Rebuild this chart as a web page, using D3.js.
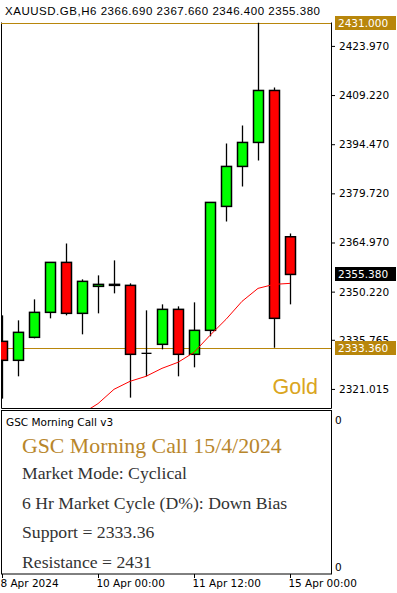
<!DOCTYPE html>
<html>
<head>
<meta charset="utf-8">
<script src="https://cdn.jsdelivr.net/npm/d3@7"></script>
<style>
  body { margin: 0; background: #fff; }
  text { font-family: "DejaVu Sans", sans-serif; }
</style>
</head>
<body>
<div id="chart"></div>
<script>
// H6 bars, XAUUSD
var categories = ["8 Apr 12:00", "8 Apr 18:00", "9 Apr 00:00", "9 Apr 06:00", "9 Apr 12:00", "9 Apr 18:00",
  "10 Apr 00:00", "10 Apr 06:00", "10 Apr 12:00", "10 Apr 18:00", "11 Apr 00:00", "11 Apr 06:00",
  "11 Apr 12:00", "11 Apr 18:00", "12 Apr 00:00", "12 Apr 06:00", "12 Apr 12:00", "12 Apr 18:00", "15 Apr 00:00"];
var opens  = [2335.3, 2329.6, 2336.5, 2344.0, 2359.0, 2343.7, 2351.8, 2352.1, 2352.1, 2331.7, 2334.4, 2344.9, 2331.4, 2338.6, 2375.8, 2387.8, 2395.0, 2410.6, 2366.69];
var highs  = [2343.1, 2341.6, 2347.9, 2359.0, 2364.7, 2353.9, 2355.1, 2359.6, 2352.7, 2344.6, 2346.4, 2345.8, 2347.0, 2377.0, 2394.7, 2400.1, 2431.0, 2411.5, 2367.66];
var lows   = [2318.1, 2324.8, 2336.2, 2342.2, 2343.1, 2337.4, 2343.7, 2349.7, 2318.4, 2324.8, 2332.9, 2324.8, 2327.5, 2336.8, 2371.3, 2381.8, 2389.6, 2333.4, 2346.40];
var closes = [2329.6, 2338.0, 2344.0, 2359.0, 2343.7, 2353.3, 2352.4, 2352.4, 2331.4, 2331.7, 2344.9, 2331.4, 2338.6, 2377.0, 2387.8, 2395.0, 2410.6, 2342.2, 2355.38];
var maValues = [null, null, null, null, null, 2313.6, 2316.6, 2320.9, 2323.3, 2324.8, 2327.2, 2329.0, 2332.0, 2337.1, 2341.9, 2347.3, 2351.2, 2352.4, 2352.7];

var priceTicks = [2423.970, 2409.220, 2394.470, 2379.720, 2364.970, 2350.220, 2335.765, 2321.015];
var xTickCats = ["8 Apr 12:00", "10 Apr 00:00", "11 Apr 12:00", "15 Apr 00:00"];
var xTickLabels = ["8 Apr 2024", "10 Apr 00:00", "11 Apr 12:00", "15 Apr 00:00"];

var resistance = 2431.0;
var support = 2333.36;
var lastPrice = 2355.38;

var panelLines = ["Market Mode: Cyclical", "6 Hr Market Cycle (D%): Down Bias", "Support = 2333.36", "Resistance = 2431"];

var svgWidth = 397, svgHeight = 593;
var chartLeft = 1, chartRight = 331, chartTop = 22.5, chartBottom = 408;
var panelTop = 410.5, panelBottom = 574;
var gold = "#B8860B";

var svg = d3.select("#chart").append("svg")
  .attr("width", svgWidth)
  .attr("height", svgHeight);

var x = d3.scalePoint().domain(categories).range([2, 290]);
var y = d3.scaleLinear().domain([2315.29, 2431.0]).range([chartBottom, chartTop]);

var data = categories.map(function(c, i) {
  return { cat: c, o: opens[i], h: highs[i], l: lows[i], c: closes[i], ma: maValues[i] };
});

svg.append("clipPath").attr("id", "clip")
  .append("rect")
  .attr("x", chartLeft).attr("y", chartTop)
  .attr("width", chartRight - chartLeft).attr("height", chartBottom - chartTop);

// header
svg.append("text")
  .attr("x", 5).attr("y", 15)
  .style("font-family", "'Liberation Sans', Arial, sans-serif")
  .style("font-size", "11.5px")
  .attr("textLength", 315)
  .attr("lengthAdjust", "spacing")
  .attr("fill", "#000")
  .text("XAUUSD.GB,H6  2366.690 2367.660 2346.400 2355.380");

// chart frame
svg.append("path")
  .attr("d", `M${chartLeft + 0.5},${chartTop} V${chartBottom + 0.5} H${chartRight + 0.5} V${chartTop}`)
  .attr("fill", "none").attr("stroke", "#000").attr("stroke-width", 1);

var plot = svg.append("g").attr("clip-path", "url(#clip)");

// support / resistance
[resistance, support].forEach(function(v) {
  plot.append("line")
    .attr("x1", chartLeft).attr("x2", chartRight)
    .attr("y1", Math.round(y(v)) + 0.5).attr("y2", Math.round(y(v)) + 0.5)
    .attr("stroke", gold).attr("stroke-width", 1.2);
});

// "Gold" label
svg.append("text")
  .attr("x", 318).attr("y", 394)
  .attr("text-anchor", "end")
  .style("font-family", "'Liberation Sans', Arial, sans-serif")
  .style("font-size", "21.5px")
  .attr("fill", "#DAA520")
  .text("Gold");

// wicks
plot.selectAll(".wick").data(data).enter().append("line")
  .attr("class", "wick")
  .attr("x1", d => x(d.cat) + 0.5).attr("x2", d => x(d.cat) + 0.5)
  .attr("y1", d => y(d.h)).attr("y2", d => y(d.l))
  .attr("stroke", "#000").attr("stroke-width", 1.3);

// bodies
plot.selectAll(".body").data(data.filter(d => d.o !== d.c)).enter().append("rect")
  .attr("class", "body")
  .attr("x", d => x(d.cat) - 4.5)
  .attr("width", 10)
  .attr("y", d => y(Math.max(d.o, d.c)))
  .attr("height", d => Math.max(1, Math.abs(y(d.o) - y(d.c))))
  .attr("fill", d => d.c > d.o ? "#00FF00" : "#FF0000")
  .attr("stroke", "#000").attr("stroke-width", 1.5);

// doji
plot.selectAll(".doji").data(data.filter(d => d.o === d.c)).enter().append("line")
  .attr("class", "doji")
  .attr("x1", d => x(d.cat) - 4.5).attr("x2", d => x(d.cat) + 5.5)
  .attr("y1", d => y(d.o)).attr("y2", d => y(d.o))
  .attr("stroke", "#000").attr("stroke-width", 1.3);

// moving average
var maLine = d3.line()
  .defined(d => d.ma !== null)
  .x(d => x(d.cat))
  .y(d => y(d.ma));

plot.append("path")
  .datum(data)
  .attr("d", maLine)
  .attr("fill", "none")
  .attr("stroke", "#FF0000")
  .attr("stroke-width", 1);

// price axis
var yAxis = d3.axisRight(y)
  .tickValues(priceTicks)
  .tickFormat(d3.format(".3f"))
  .tickSize(4)
  .tickPadding(4);

var yAxisG = svg.append("g")
  .attr("transform", `translate(${chartRight}, 0)`)
  .call(yAxis);
yAxisG.select(".domain").remove();
yAxisG.selectAll("text").style("font-size", "10.5px").style("font-family", "'DejaVu Sans', sans-serif").attr("fill", "#000");

// price labels with background
function priceLabel(v, bg) {
  var yy = Math.round(y(v));
  svg.append("rect")
    .attr("x", 335).attr("y", yy - 7)
    .attr("width", 61).attr("height", 14)
    .attr("fill", bg);
  svg.append("text")
    .attr("x", 338).attr("y", yy + 4)
    .style("font-size", "10.5px")
    .attr("fill", "#fff")
    .text(d3.format(".3f")(v));
}
priceLabel(resistance, gold);
priceLabel(lastPrice, "#000");
priceLabel(support, gold);

// indicator panel
svg.append("rect")
  .attr("x", chartLeft + 0.5).attr("y", panelTop)
  .attr("width", chartRight - chartLeft).attr("height", panelBottom - panelTop)
  .attr("fill", "none").attr("stroke", "#000").attr("stroke-width", 1);

svg.append("text")
  .attr("x", 6).attr("y", 426)
  .style("font-size", "10.5px")
  .attr("fill", "#000")
  .text("GSC Morning Call v3");

svg.append("text")
  .attr("x", 335).attr("y", 424)
  .style("font-size", "10.5px")
  .text("0");
svg.append("text")
  .attr("x", 335).attr("y", 571)
  .style("font-size", "10.5px")
  .text("0");

svg.append("text")
  .attr("x", 22).attr("y", 453)
  .style("font-family", "'Liberation Serif', 'DejaVu Serif', serif")
  .style("font-size", "21.8px")
  .attr("fill", "#B8862B")
  .text("GSC Morning Call 15/4/2024");

svg.selectAll(".pline").data(panelLines).enter().append("text")
  .attr("class", "pline")
  .attr("x", 22)
  .attr("y", (d, i) => 479 + i * 29.7)
  .style("font-family", "'Liberation Serif', 'DejaVu Serif', serif")
  .style("font-size", "17.7px")
  .attr("fill", "#333")
  .text(d => d);

// time axis
var xAxis = d3.axisBottom(x)
  .tickValues(xTickCats)
  .tickFormat(d => xTickLabels[xTickCats.indexOf(d)])
  .tickSize(4)
  .tickPadding(2);

var xAxisG = svg.append("g")
  .attr("transform", `translate(0, ${panelBottom})`)
  .call(xAxis);
xAxisG.select(".domain").remove();
xAxisG.selectAll("text")
  .attr("text-anchor", "start")
  .attr("dx", "-0.2em")
  .style("font-size", "10.5px")
  .style("font-family", "'DejaVu Sans', sans-serif")
  .attr("fill", "#000");
</script>
</body>
</html>
